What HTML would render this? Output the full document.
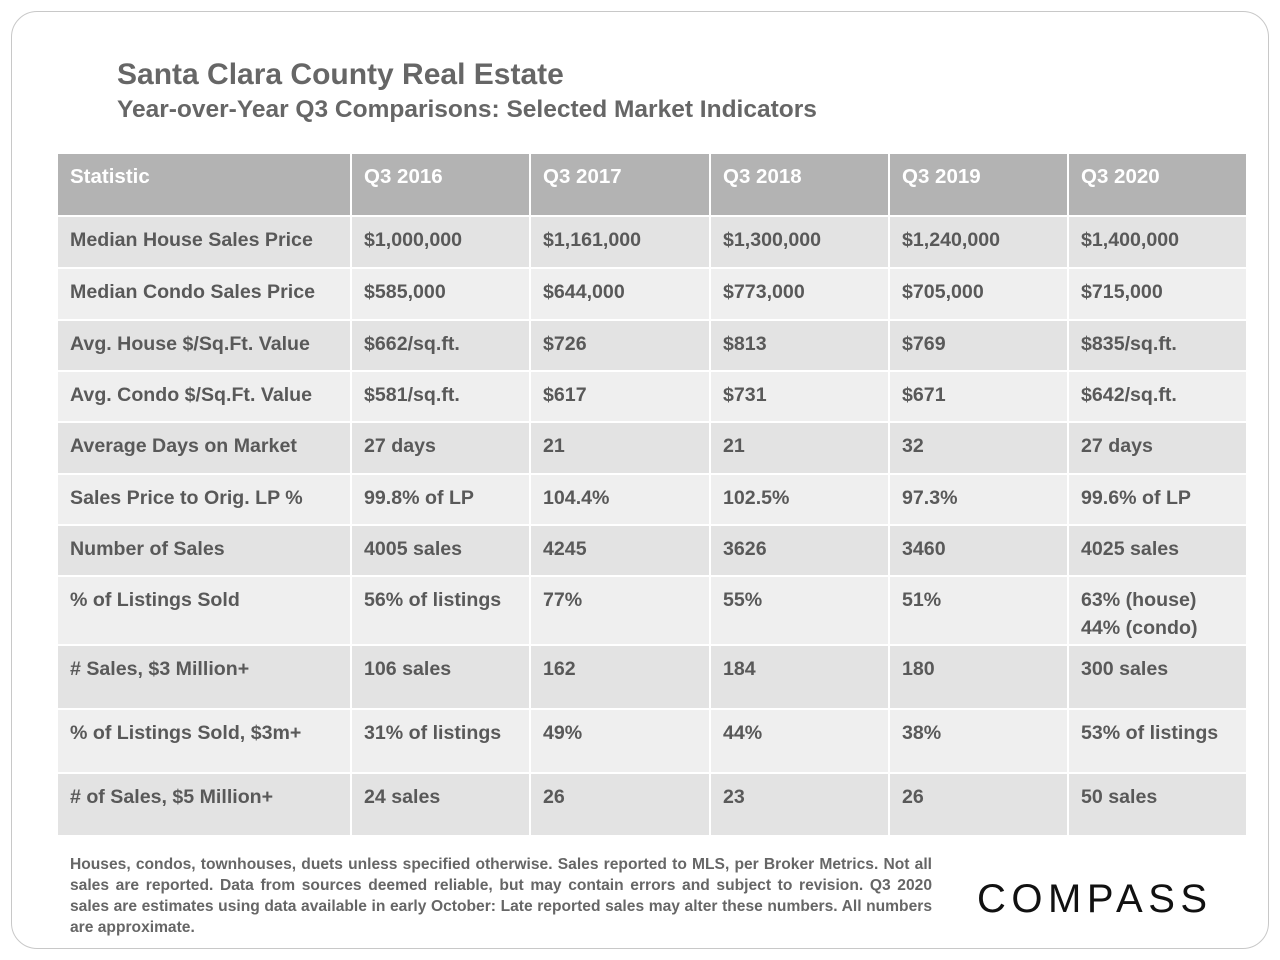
<!DOCTYPE html>
<html><head><meta charset="utf-8"><style>
body{margin:0;width:1280px;height:960px;background:#fff;font-family:"Liberation Sans",sans-serif;color:#595959;position:relative;overflow:hidden}
.frame{position:absolute;left:11px;top:11px;width:1256px;height:936px;border:1px solid #c8c8c8;border-radius:26px}
h1{position:absolute;left:117px;top:58px;margin:0;font-size:30px;font-weight:bold;color:#666}
h2{position:absolute;left:117px;top:96px;margin:0;font-size:24.5px;font-weight:bold;color:#666}
table{position:absolute;left:56px;top:152px;border-collapse:collapse;table-layout:fixed}
td,th{border:2.5px solid #fff;padding:9px 0 0 12px;vertical-align:top;font-size:19.6px;font-weight:bold;text-align:left;line-height:28px;color:#595959}
th{background:#b3b3b3;color:#fff;height:52px;font-size:20.5px}
tr.o td{background:#e3e3e3}tr.e td{background:#efefef}
.foot{position:absolute;left:70px;top:854px;width:862px;font-size:15.6px;font-weight:bold;line-height:21px;text-align:justify;color:#666}
.logo{position:absolute;left:977px;top:877px;font-size:40px;letter-spacing:5.5px;color:#111;font-weight:normal}
</style></head><body>
<div class="frame"></div>
<h1>Santa Clara County Real Estate</h1>
<h2>Year-over-Year Q3 Comparisons: Selected Market Indicators</h2>
<table>
<colgroup><col style="width:294px"><col style="width:179px"><col style="width:180px"><col style="width:179px"><col style="width:179px"><col style="width:179px"></colgroup>
<tr><th>Statistic</th><th>Q3 2016</th><th>Q3 2017</th><th>Q3 2018</th><th>Q3 2019</th><th>Q3 2020</th></tr>
<tr class="o" style="height:52px"><td>Median House Sales Price</td><td>$1,000,000</td><td>$1,161,000</td><td>$1,300,000</td><td>$1,240,000</td><td>$1,400,000</td></tr>
<tr class="e" style="height:52px"><td>Median Condo Sales Price</td><td>$585,000</td><td>$644,000</td><td>$773,000</td><td>$705,000</td><td>$715,000</td></tr>
<tr class="o" style="height:51px"><td>Avg. House $/Sq.Ft. Value</td><td>$662/sq.ft.</td><td>$726</td><td>$813</td><td>$769</td><td>$835/sq.ft.</td></tr>
<tr class="e" style="height:51px"><td>Avg. Condo $/Sq.Ft. Value</td><td>$581/sq.ft.</td><td>$617</td><td>$731</td><td>$671</td><td>$642/sq.ft.</td></tr>
<tr class="o" style="height:52px"><td>Average Days on Market</td><td>27 days</td><td>21</td><td>21</td><td>32</td><td>27 days</td></tr>
<tr class="e" style="height:51px"><td>Sales Price to Orig. LP %</td><td>99.8% of LP</td><td>104.4%</td><td>102.5%</td><td>97.3%</td><td>99.6% of LP</td></tr>
<tr class="o" style="height:51px"><td>Number of Sales</td><td>4005 sales</td><td>4245</td><td>3626</td><td>3460</td><td>4025 sales</td></tr>
<tr class="e" style="height:69px"><td>% of Listings Sold</td><td>56% of listings</td><td>77%</td><td>55%</td><td>51%</td><td>63% (house)<br>44% (condo)</td></tr>
<tr class="o" style="height:64px"><td># Sales, $3 Million+</td><td>106 sales</td><td>162</td><td>184</td><td>180</td><td>300 sales</td></tr>
<tr class="e" style="height:64px"><td>% of Listings Sold, $3m+</td><td>31% of listings</td><td>49%</td><td>44%</td><td>38%</td><td>53% of listings</td></tr>
<tr class="o" style="height:63px"><td># of Sales, $5 Million+</td><td>24 sales</td><td>26</td><td>23</td><td>26</td><td>50 sales</td></tr>
</table>
<div class="foot">Houses, condos, townhouses, duets unless specified otherwise. Sales reported to MLS, per Broker Metrics. Not all sales are reported. Data from sources deemed reliable, but may contain errors and subject to revision. Q3 2020 sales are estimates using data available in early October: Late reported sales may alter these numbers. All numbers are approximate.</div>
<div class="logo">COMPASS</div>
</body></html>
